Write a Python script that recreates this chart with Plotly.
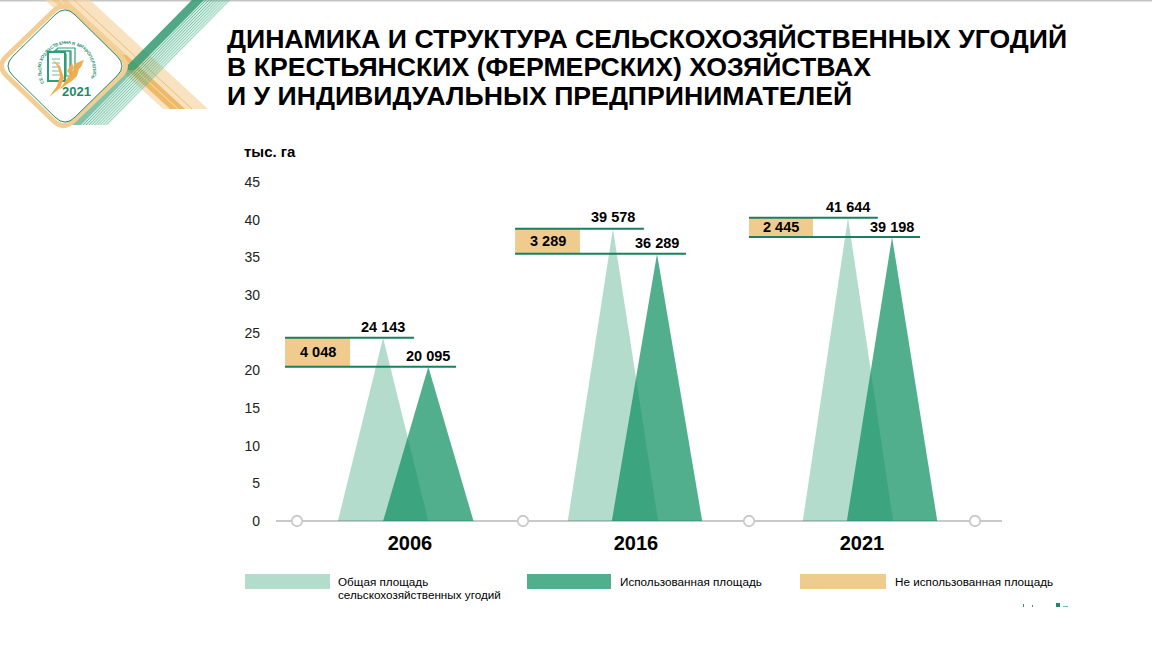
import math
import plotly.graph_objects as go

# ---------- data ----------
years = ["2006", "2016", "2021"]
total_labels = ["24 143", "39 578", "41 644"]
used_labels = ["20 095", "36 289", "39 198"]
unused_labels = ["4 048", "3 289", "2 445"]
# heights as drawn in the picture, in axis units
total_heights = [24.33, 38.8, 40.26]
used_heights = [20.48, 35.48, 37.7]
y_ticks = [0, 5, 10, 15, 20, 25, 30, 35, 40, 45]
title_lines = [
    "ДИНАМИКА И СТРУКТУРА СЕЛЬСКОХОЗЯЙСТВЕННЫХ УГОДИЙ",
    "В КРЕСТЬЯНСКИХ (ФЕРМЕРСКИХ) ХОЗЯЙСТВАХ",
    "И У ИНДИВИДУАЛЬНЫХ ПРЕДПРИНИМАТЕЛЕЙ",
]
legend_names = ["Общая площадь<br>сельскохозяйственных угодий", "Использованная площадь", "Не использованная площадь"]
unit = "тыс. га"

# ---------- layout constants ----------
W, H = 1152, 648
FONT = "Liberation Sans"
C_TOTAL = "rgba(11,142,94,0.31)"
C_USED = "rgba(11,142,94,0.71)"
C_UNUSED = "#F0CB8E"
C_LINE = "#1B7F5F"
C_AXIS = "#C9C9C9"
total_off = [-0.119, -0.102, -0.062]
used_off = [0.081, 0.093, 0.133]
half_base = 0.2
left_off = [-0.553, -0.535, -0.5]
total_right = [0.018, 0.035, 0.07]
used_right = [0.204, 0.221, 0.257]
box_right = [-0.265, -0.248, -0.217]


def px(x):
    return x / W


def py(y):
    return 1 - y / H


fig = go.Figure()

# triangles
for i in range(3):
    c = i + total_off[i]
    fig.add_trace(go.Scatter(x=[c - half_base, c, c + half_base], y=[0, total_heights[i], 0], fill="toself",
                             fillcolor=C_TOTAL, mode="none", hoverinfo="skip", showlegend=False))
for i in range(3):
    c = i + used_off[i]
    fig.add_trace(go.Scatter(x=[c - half_base, c, c + half_base], y=[0, used_heights[i], 0], fill="toself",
                             fillcolor=C_USED, mode="none", hoverinfo="skip", showlegend=False))

# unused boxes and leader lines
for i in range(3):
    l, r = i + left_off[i], i + box_right[i]
    fig.add_trace(go.Scatter(x=[l, r, r, l, l],
                             y=[used_heights[i], used_heights[i], total_heights[i], total_heights[i], used_heights[i]],
                             fill="toself", fillcolor=C_UNUSED, mode="none", hoverinfo="skip", showlegend=False))
    fig.add_trace(go.Scatter(x=[l, i + total_right[i]], y=[total_heights[i]] * 2, mode="lines",
                             line=dict(color=C_LINE, width=2), hoverinfo="skip", showlegend=False, cliponaxis=False))
    fig.add_trace(go.Scatter(x=[l, i + used_right[i]], y=[used_heights[i]] * 2, mode="lines",
                             line=dict(color=C_LINE, width=2), hoverinfo="skip", showlegend=False, cliponaxis=False))

# category boundary circles on the axis
fig.add_trace(go.Scatter(x=[-0.5, 0.5, 1.5, 2.5], y=[0, 0, 0, 0], mode="markers",
                         marker=dict(size=10.5, color="white", line=dict(color=C_AXIS, width=1.8)),
                         hoverinfo="skip", showlegend=False, cliponaxis=False))

shapes = []
anns = []


# value labels, anchored to the data
def value_label(x, y, s, shift):
    anns.append(dict(xref="x", yref="y", x=x, y=y, text=f"<b>{s}</b>", showarrow=False, xanchor="center",
                     yanchor="middle", yshift=shift, font=dict(family=FONT, size=14.5, color="#000000")))


total_shift = [11, 11.5, 10.5]
used_shift = [11, 11, 9.5]
for i in range(3):
    value_label(i + total_off[i], total_heights[i], total_labels[i], total_shift[i])
    value_label(i + used_off[i], used_heights[i], used_labels[i], used_shift[i])
    value_label(i + (left_off[i] + box_right[i]) / 2, (total_heights[i] + used_heights[i]) / 2, unused_labels[i], 0)


def rect(x0, y0, x1, y1, color):
    shapes.append(dict(type="rect", xref="paper", yref="paper", x0=px(x0), x1=px(x1), y0=py(y0), y1=py(y1),
                       fillcolor=color, line=dict(width=0), layer="above"))


def seg(x0, y0, x1, y1, color, width):
    shapes.append(dict(type="line", xref="paper", yref="paper", x0=px(x0), x1=px(x1), y0=py(y0), y1=py(y1),
                       line=dict(color=color, width=width), layer="above"))


def path(points, fill, line_color=None, width=0, closed=True):
    d = "M" + " L".join(f"{px(a):.5f},{py(b):.5f}" for a, b in points) + (" Z" if closed else "")
    shapes.append(dict(type="path", xref="paper", yref="paper", path=d, fillcolor=fill,
                       line=dict(color=line_color or "rgba(0,0,0,0)", width=width), layer="above"))


def text(x, y, s, size, color="#000000", xanchor="left", angle=0, bold=False, align="left"):
    anns.append(dict(xref="paper", yref="paper", x=px(x), y=py(y), text=f"<b>{s}</b>" if bold else s, showarrow=False,
                     xanchor=xanchor, yanchor="middle", align=align, textangle=angle,
                     font=dict(family=FONT, size=size, color=color), borderpad=0, borderwidth=0))


# top rule
rect(0, 0, W, 1.5, "#C4C4C4")

# logo: orange band
path([(45, 0), (90, 0), (208, 109), (163, 109)], "rgba(245,214,165,0.7)")
path([(52, 0), (67, 0), (126.5, 55), (111.5, 55)], "rgba(236,178,88,0.35)")
path([(111.5, 55), (126.5, 55), (185, 109), (170, 109)], "rgba(236,178,88,0.85)")
seg(74, 0, 192, 109, "rgba(230,165,70,0.9)", 0.7)
seg(60, 0, 178, 109, "rgba(250,235,205,0.8)", 1)

# logo: green band, fine stripes
path([(192, 0), (231, 0), (108, 125), (67, 125)], "rgba(120,200,170,0.28)")
path([(192, 0), (204, 0), (135, 70), (123, 70)], "rgba(45,150,110,0.8)")
path([(123, 70), (135, 70), (81, 125), (69, 125)], "rgba(45,150,110,0.5)")
for k in range(9):
    xs = 206 + k * 2.9
    seg(xs, 0, xs - 123, 125, "rgba(50,160,120,%.2f)" % (0.8 - k * 0.05), 0.9)


def diamond(cx, cy, rx, ry, d=14):
    pts = [(cx - rx, cy), (cx, cy - ry), (cx + rx, cy), (cx, cy + ry)]
    n = len(pts)
    out = ""
    for i in range(n):
        p, a, b = pts[i], pts[i - 1], pts[(i + 1) % n]
        la = math.hypot(a[0] - p[0], a[1] - p[1])
        lb = math.hypot(b[0] - p[0], b[1] - p[1])
        q0 = (p[0] + (a[0] - p[0]) * d / la, p[1] + (a[1] - p[1]) * d / la)
        q1 = (p[0] + (b[0] - p[0]) * d / lb, p[1] + (b[1] - p[1]) * d / lb)
        out += ("M" if i == 0 else "L") + f"{px(q0[0]):.5f},{py(q0[1]):.5f} "
        out += f"Q{px(p[0]):.5f},{py(p[1]):.5f} {px(q1[0]):.5f},{py(q1[1]):.5f} "
    return out + "Z"


shapes.append(dict(type="path", xref="paper", yref="paper", path=diamond(63.5, 66, 67, 64.5), fillcolor="white",
                   line=dict(color="#F2CD94", width=5), layer="above"))
shapes.append(dict(type="path", xref="paper", yref="paper", path=diamond(65, 66, 62, 61), fillcolor="white",
                   line=dict(color="#1F8A66", width=1), layer="above"))

# logo: emblem
G = "#2E9E78"
O = "#EDAE4F"
path([(55, 51), (58, 48), (75, 48), (75, 74), (70, 74), (70, 51)], "rgba(0,0,0,0)", G, 1.2)
path([(51, 54), (54, 51), (71, 51), (71, 76), (66, 76), (66, 54)], "rgba(0,0,0,0)", G, 1.2)
path([(48, 52), (65, 52), (65, 81), (48, 81)], "white", G, 2)
for yy in (59, 63, 67, 71, 75):
    seg(52, yy, 60, yy, "rgba(46,158,120,0.7)", 1)
path([(52, 59), (60, 66), (64, 78), (60, 88), (49, 97), (57, 86), (60, 76), (58, 67)], O)
path([(59, 90), (64, 83), (68, 77), (73, 70), (82, 60), (79, 69), (77, 76), (72, 81), (66, 85)], O)
path([(67, 71), (72, 63), (74, 68), (70, 74)], O)
path([(74, 64), (84, 60), (81, 67), (76, 71)], O)
text(76, 91.5, "2021", 13, "#1F8A66", "center", bold=True)
arc = "СЕЛЬСКОХОЗЯЙСТВЕННАЯ МИКРОПЕРЕПИСЬ"
for k, ch in enumerate(arc):
    ang = -115 + 222 * k / (len(arc) - 1)
    a = math.radians(ang)
    text(67 + 27.5 * math.sin(a), 70 - 27.5 * math.cos(a), ch, 4.5, "#2A9470", "center", angle=ang, bold=True)

# title
for y, t in zip((39, 67.5, 96), title_lines):
    text(227, y, t, 26.65, bold=True)
text(244, 152, unit, 15, bold=True)

# legend
for x0, x1, tx, c, name in zip((245, 527, 800), (330, 611, 886), (338, 620, 895),
                               (C_TOTAL, C_USED, C_UNUSED), legend_names):
    rect(x0, 574, x1, 589, c)
    if "<br>" in name:
        a, b = name.split("<br>")
        text(tx, 581, a, 11.7)
        text(tx, 594, b, 11.7)
    else:
        text(tx, 581, name, 11.7)

# small remnants at lower right
rect(1023, 604, 1024, 607, "#2E9E78")
rect(1032, 605, 1033, 607, "#2E9E78")
rect(1056, 603, 1060, 607, "#1F8A66")
rect(1063, 606, 1068, 607, "#6DBBA0")

fig.update_layout(
    width=W, height=H, autosize=False, margin=dict(l=0, r=0, t=0, b=0, autoexpand=False),
    paper_bgcolor="white", plot_bgcolor="white", showlegend=False,
    shapes=shapes, annotations=anns, font=dict(family=FONT),
    xaxis=dict(domain=[276 / W, 1002 / W], range=[(276 - 410) / 226, (1002 - 410) / 226],
               tickmode="array", tickvals=[0, 1, 2], ticktext=[f"<b>{y}</b>" for y in years], automargin=False,
               tickfont=dict(family=FONT, size=20, color="#000000"), showgrid=False, zeroline=False,
               showline=False, ticks="", ticklabelstandoff=8, fixedrange=True),
    yaxis=dict(domain=[1 - 521 / H, 1 - 182 / H], range=[0, 45], tickmode="array", tickvals=y_ticks, automargin=False,
               tickfont=dict(family=FONT, size=14, color="#222222"), showgrid=False, zeroline=True,
               zerolinecolor=C_AXIS, zerolinewidth=2,
               showline=False, ticks="", ticklabelstandoff=15, fixedrange=True),
)

fig.write_html("out.html", config=dict(displayModeBar=False),
               post_script="document.body.style.margin='0';document.documentElement.style.overflow='hidden';")
